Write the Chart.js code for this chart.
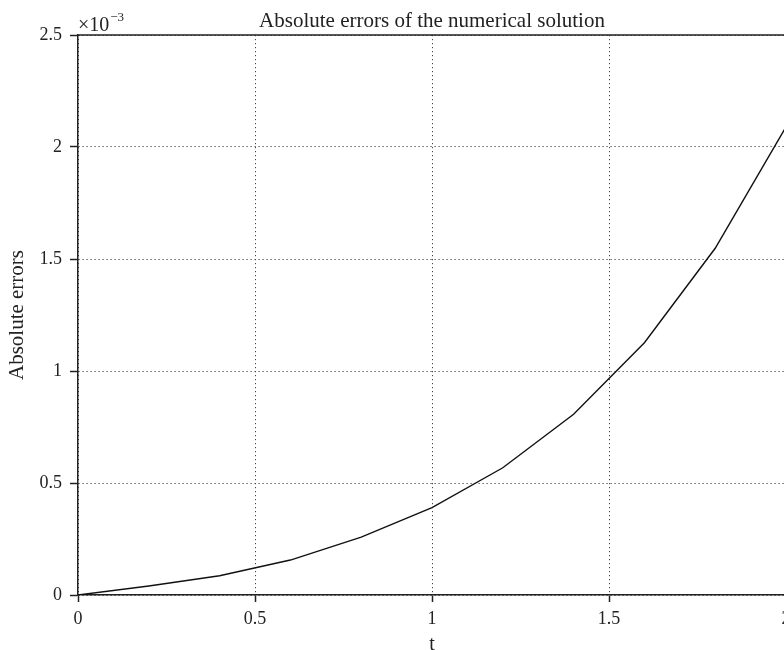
<!DOCTYPE html>
<html>
<head>
<meta charset="utf-8">
<script src="https://cdn.jsdelivr.net/npm/chart.js@4/dist/chart.umd.min.js"></script>
<style>
  html, body { margin: 0; padding: 0; overflow: hidden; background: #fff; }
  #wrap { width: 810px; height: 650px; }
</style>
</head>
<body>
<div id="wrap"><canvas id="errChart"></canvas></div>
<script>
// data (absolute errors in units of 1e-3)
const tValues = [0, 0.2, 0.4, 0.6, 0.8, 1.0, 1.2, 1.4, 1.6, 1.8, 2.0];
const absErrors = [0, 0.040, 0.086, 0.156, 0.258, 0.390, 0.568, 0.807, 1.126, 1.548, 2.09];
const xTicks = [0, 0.5, 1, 1.5, 2];
const yTicks = [0, 0.5, 1, 1.5, 2, 2.5];

const chartTitle = 'Absolute errors of the numerical solution';
const xLabel = 't';
const yLabel = 'Absolute errors';

const serif = '"Liberation Serif", "DejaVu Serif", serif';
const ink = '#222';

// title, the x10^-3 multiplier and the top/right box lines
const extrasPlugin = {
    id: 'extras',
    afterDraw(chart) {
        const { ctx, chartArea: a } = chart;
        ctx.save();
        ctx.strokeStyle = ink;
        ctx.lineWidth = 1.5;
        ctx.beginPath();
        ctx.moveTo(a.left, a.top);
        ctx.lineTo(a.right, a.top);
        ctx.lineTo(a.right, a.bottom);
        ctx.stroke();

        ctx.fillStyle = ink;
        ctx.font = '21px ' + serif;
        ctx.textAlign = 'center';
        ctx.textBaseline = 'alphabetic';
        ctx.fillText(chartTitle, (a.left + a.right) / 2, 27);

        ctx.textAlign = 'left';
        ctx.font = '20px ' + serif;
        ctx.fillText('\u00d710', a.left, 31);
        const w = ctx.measureText('\u00d710').width;
        ctx.font = '13px ' + serif;
        ctx.fillText('\u22123', a.left + w + 1, 21);
        ctx.restore();
    }
};

const ctx = document.getElementById('errChart').getContext('2d');
const chart = new Chart(ctx, {
    type: 'line',
    data: {
        datasets: [{
            label: yLabel,
            data: tValues.map((t, i) => ({ x: t, y: absErrors[i] })),
            borderColor: '#111',
            borderWidth: 1.4,
            pointRadius: 0,
            fill: false,
            tension: 0
        }]
    },
    options: {
        responsive: true,
        maintainAspectRatio: false,
        animation: false,
        layout: { padding: { top: 35, right: 24, left: 0, bottom: 0 } },
        plugins: {
            legend: { display: false },
            tooltip: { enabled: false }
        },
        scales: {
            x: {
                type: 'linear',
                min: 0,
                max: 2,
                afterBuildTicks: s => { s.ticks = xTicks.map(v => ({ value: v })); },
                afterFit: s => { s.height = 55; },
                ticks: {
                    color: ink,
                    font: { family: serif, size: 18 },
                    padding: 6,
                    maxRotation: 0,
                    callback: v => String(v)
                },
                grid: {
                    color: '#444',
                    lineWidth: 1,
                    tickLength: 7,
                    tickColor: ink,
                    tickWidth: 1.5
                },
                border: { display: true, color: ink, width: 1.5, dash: [1.2, 2.8] },
                title: {
                    display: true,
                    text: xLabel,
                    color: ink,
                    font: { family: serif, size: 20, lineHeight: 1 },
                    padding: { top: 0, bottom: -5 }
                }
            },
            y: {
                type: 'linear',
                min: 0,
                max: 2.5,
                afterBuildTicks: s => { s.ticks = yTicks.map(v => ({ value: v })); },
                afterFit: s => { s.width = 78; },
                ticks: {
                    color: ink,
                    font: { family: serif, size: 18 },
                    padding: 8,
                    callback: v => String(v)
                },
                grid: {
                    color: '#444',
                    lineWidth: 1,
                    tickLength: 8,
                    tickColor: ink,
                    tickWidth: 1.5
                },
                border: { display: true, color: ink, width: 1.5, dash: [1.2, 2.8] },
                title: {
                    display: true,
                    text: yLabel,
                    color: ink,
                    font: { family: serif, size: 21 },
                    padding: { top: 5, bottom: 0 }
                }
            }
        }
    },
    plugins: [extrasPlugin]
});
</script>
</body>
</html>
